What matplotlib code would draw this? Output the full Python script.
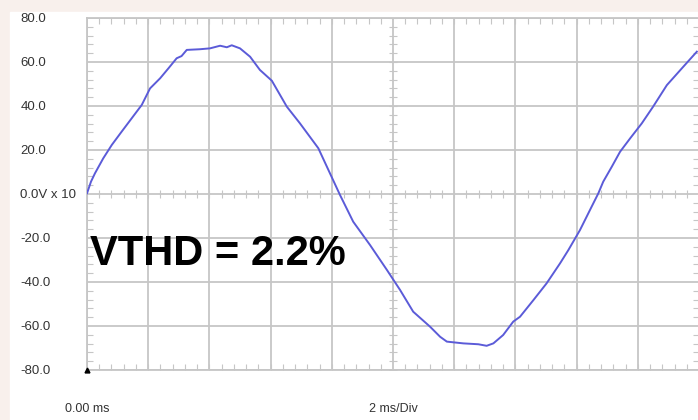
import matplotlib
matplotlib.use('Agg')
import matplotlib.pyplot as plt
from matplotlib.patches import Rectangle
from matplotlib.ticker import MultipleLocator

# Waveform (time in ms, volts / 10)
time_ms = [0.0, 0.13, 0.26, 0.53, 0.81, 1.13, 1.46, 1.79, 2.06, 2.39, 2.66,
           2.93, 3.09, 3.26, 3.69, 4.02, 4.35, 4.57, 4.73, 5.0, 5.33, 5.65,
           6.04, 6.53, 6.96, 7.56, 7.94, 8.27, 8.7, 9.25, 9.8, 10.23, 10.66,
           11.21, 11.54, 11.76, 12.3, 12.79, 13.06, 13.28, 13.6, 13.93, 14.15,
           14.59, 15.02, 15.46, 15.73, 16.11, 16.49, 16.71, 16.87, 17.15,
           17.42, 17.75, 18.13, 18.5, 18.95, 19.49, 19.93]
volts = [0.3, 5.6, 9.4, 16.2, 22.3, 28.3, 34.4, 40.5, 48.0, 52.6, 57.1,
         61.7, 62.7, 65.5, 65.8, 66.2, 67.4, 66.7, 67.6, 66.2, 62.4, 56.4,
         51.5, 39.7, 32.1, 20.8, 9.4, -0.5, -12.6, -23.2, -34.5, -43.6, -53.5,
         -60.3, -64.9, -67.1, -67.9, -68.3, -69.0, -67.9, -64.1, -58.0, -55.8,
         -48.2, -40.6, -31.5, -25.5, -16.4, -5.8, 0.3, 5.6, 12.4,
         19.2, 25.3, 32.1, 39.7, 49.5, 57.9, 64.7]

y_ticks = [80, 60, 40, 20, 0, -20, -40, -60, -80]
y_labels = ['80.0', '60.0', '40.0', '20.0', '0.0V x 10', '-20.0', '-40.0',
            '-60.0', '-80.0']
x_ticks = [0, 10]
x_labels = ['0.00 ms', '2 ms/Div']
thd_text = 'VTHD = 2.2%'

grid_col = '#c6c6c6'
label_font = ['Liberation Sans', 'DejaVu Sans']

fig = plt.figure(figsize=(6.98, 4.20), dpi=100, facecolor='#f8f0ec')
# white screen area with a thin pinkish rim at top/left
fig.patches.append(Rectangle((10 / 698, 0), 1, 1 - 12 / 420,
                             transform=fig.transFigure, color='white',
                             zorder=-5))

ax = fig.add_axes([87 / 698, 1 - 370 / 420, (699 - 87) / 698, (370 - 18) / 420])
ax.set_zorder(1)
ax.set_facecolor('white')
ax.set_xlim(0, 20)
ax.set_ylim(-80, 80)

# grid divisions
for gx in range(0, 21, 2):
    ax.axvline(gx, color=grid_col, lw=1.3, zorder=1)
for gy in range(-80, 81, 20):
    ax.axhline(gy, color=grid_col, lw=1.3, zorder=1)

for s in ax.spines.values():
    s.set_color(grid_col)
    s.set_linewidth(1.3)

# minor ticks on the border
ax.xaxis.set_minor_locator(MultipleLocator(0.4))
ax.yaxis.set_minor_locator(MultipleLocator(4))
ax.tick_params(which='minor', direction='in', length=4, width=0.8,
               color=grid_col, top=True, right=True, bottom=True, left=True)
ax.tick_params(which='major', length=0)

# minor ticks along the centre lines
cx = [i * 0.4 for i in range(51)]
cy = [i * 4 - 80 for i in range(41)]
ax.plot(cx, [0] * len(cx), ls='none', marker='|', ms=6, mew=0.8,
        color=grid_col, zorder=1)
ax.plot([10] * len(cy), cy, ls='none', marker='_', ms=6, mew=0.8,
        color=grid_col, zorder=1)

ax.set_yticks(y_ticks)
ax.set_yticklabels(y_labels, family=label_font, fontsize=9.5, color='#333333')
for lbl in ax.get_yticklabels():
    lbl.set_horizontalalignment('left')
ax.tick_params(axis='y', which='major', pad=48)

ax.set_xticks(x_ticks)
ax.set_xticklabels(x_labels, family=label_font, fontsize=9, color='#333333')
ax.tick_params(axis='x', which='major', pad=24)

# the waveform
ax.plot(time_ms, volts, color='#5b5bd8', lw=1.4, zorder=3)

# trigger marker
ax.plot([0], [-80], marker='^', color='black', ms=3.5, clip_on=False, zorder=4)

fig.text(90 / 698, 1 - 265 / 420, thd_text, fontsize=30, fontweight='bold',
         family=['Liberation Sans', 'DejaVu Sans'], color='black',
         va='baseline', ha='left', zorder=5)

fig.savefig('out.png', dpi=100, facecolor=fig.get_facecolor())
